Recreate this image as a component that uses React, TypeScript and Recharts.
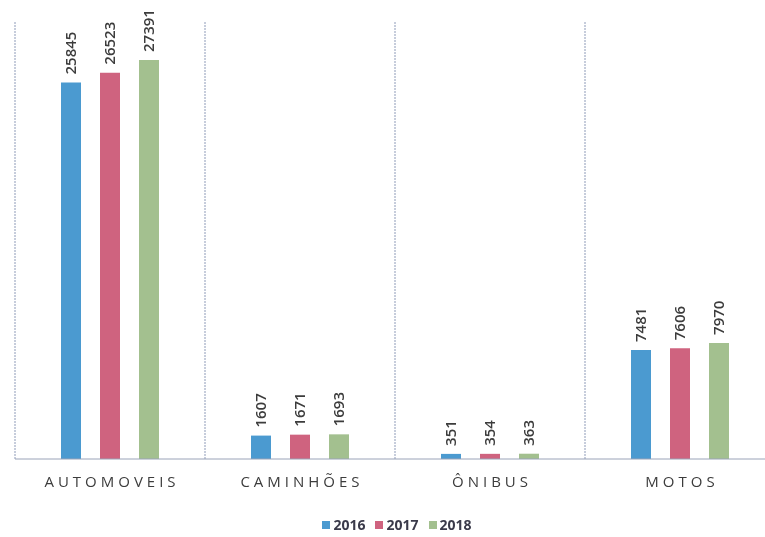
import { BarChart, Bar, XAxis, YAxis, CartesianGrid, Legend, LabelList } from "recharts";

const categories = ["AUTOMOVEIS", "CAMINHÕES", "ÔNIBUS", "MOTOS"];
const values2016 = [25845, 1607, 351, 7481];
const values2017 = [26523, 1671, 354, 7606];
const values2018 = [27391, 1693, 363, 7970];
const yDomainMax = 30000;

const data = categories.map((name, i) => ({
  name,
  y2016: values2016[i],
  y2017: values2017[i],
  y2018: values2018[i],
}));

const FONT = "'Open Sans', Lato, sans-serif";
const TEXT = "#3c3c3c";

const series = [
  { key: "y2016", name: "2016", color: "#4b9ad0" },
  { key: "y2017", name: "2017", color: "#cf637f" },
  { key: "y2018", name: "2018", color: "#a3c08f" },
];

const VerticalLabel = (props: any) => {
  const { x, y, width, value } = props;
  const cx = x + width / 2 + 5;
  const cy = y - 8;
  return (
    <text
      x={cx}
      y={cy}
      transform={`rotate(-90 ${cx} ${cy})`}
      textAnchor="start"
      fontSize={15}
      fontFamily={FONT}
      fontWeight={600}
      fill={TEXT}
    >
      {value}
    </text>
  );
};

const CategoryTick = (props: any) => {
  const { x, y, payload } = props;
  return (
    <text
      x={x + 2}
      y={y + 20}
      textAnchor="middle"
      fontSize={15}
      fontFamily={FONT}
      letterSpacing={4}
      fill={TEXT}
    >
      {payload.value}
    </text>
  );
};

const LegendContent = () => (
  <div
    style={{
      display: "flex",
      justifyContent: "center",
      gap: 10,
      fontFamily: FONT,
      fontSize: 14,
      lineHeight: "16px",
      fontWeight: 700,
      color: "#3a3a4a",
      paddingLeft: 4,
    }}
  >
    {series.map((s) => (
      <span key={s.key} style={{ display: "flex", alignItems: "center", gap: 3 }}>
        <span style={{ width: 8, height: 8, background: s.color, display: "inline-block" }} />
        {s.name}
      </span>
    ))}
  </div>
);

export default function App() {
  return (
    <div style={{ position: "fixed", top: 0, left: 0, width: 765, height: 537, overflow: "hidden" }}>
      <BarChart
        width={780}
        height={537}
        data={data}
        margin={{ top: 22, right: 5, left: 15, bottom: 0 }}
        barSize={20}
        barGap={19}
      >
        <CartesianGrid
          horizontal={false}
          stroke="#8e9bb8"
          strokeDasharray="2 1"
          verticalCoordinatesGenerator={({ offset }: any) =>
            categories
              .map((_, i) => offset.left + (i * offset.width) / categories.length)
              .concat([offset.left + offset.width])
          }
        />
        <XAxis
          dataKey="name"
          tick={<CategoryTick />}
          tickLine={false}
          axisLine={{ stroke: "#9aa3b8" }}
          height={58}
        />
        <YAxis hide domain={[0, yDomainMax]} />
        <Legend verticalAlign="bottom" height={20} content={<LegendContent />} />
        {series.map((s) => (
          <Bar key={s.key} dataKey={s.key} name={s.name} fill={s.color} isAnimationActive={false}>
            <LabelList dataKey={s.key} content={<VerticalLabel />} />
          </Bar>
        ))}
      </BarChart>
    </div>
  );
}
